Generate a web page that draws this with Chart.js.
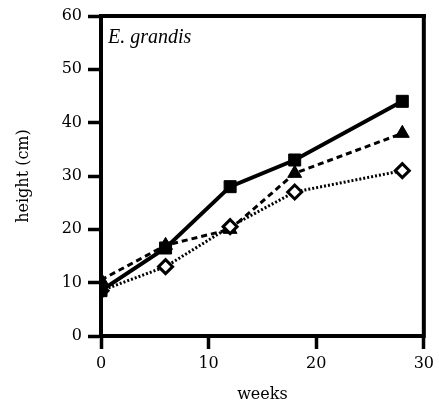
<!DOCTYPE html>
<html>
<head>
<meta charset="utf-8">
<script src="https://cdn.jsdelivr.net/npm/chart.js@4/dist/chart.umd.min.js"></script>
<style>
  body { margin: 0; background: #fff; }
  #growth { display: block; }
</style>
</head>
<body>
<canvas id="growth" width="439" height="405"></canvas>
<script>
// Height of E. grandis seedlings over time, three treatments
const weeks = [0, 6, 12, 18, 28];
const squareHeights = [8.5, 16.5, 28, 33, 44];
const triangleHeights = [10.5, 17, 20, 30.5, 38];
const diamondHeights = [8.5, 13, 20.5, 27, 31];

const speciesLabel = 'E. grandis';
const xTitle = 'weeks';
const yTitle = 'height (cm)';

const TICK_LEN = 13;

const toPoints = (ys) => weeks.map((w, i) => ({ x: w, y: ys[i] }));

// closes the box (top and right edges) and names the species
const framePlugin = {
    id: 'frame',
    afterDraw(chart) {
        const { ctx, chartArea: a } = chart;
        ctx.save();
        ctx.fillStyle = '#000';
        ctx.fillRect(a.left - 2, a.top - 2, a.right - a.left + 4, 4);
        ctx.fillRect(a.right - 2, a.top - 2, 4, a.bottom - a.top + 4);
        ctx.font = 'italic 20px "Liberation Serif"';
        ctx.textBaseline = 'alphabetic';
        ctx.fillText(speciesLabel, a.left + 7, a.top + 27);
        ctx.restore();
    }
};

const axisFont = { family: 'DejaVu Serif', size: 16 };
// outward tick marks only, no grid lines inside the plot
const tickGrid = { drawOnChartArea: false, tickLength: TICK_LEN, tickColor: '#000', tickWidth: 3.5 };

new Chart(document.getElementById('growth'), {
    type: 'line',
    data: {
        datasets: [
            {
                label: 'square',
                data: toPoints(squareHeights),
                borderColor: '#000',
                borderWidth: 4,
                pointStyle: 'rect',
                pointRadius: 8.5,
                pointBorderWidth: 1,
                pointBackgroundColor: '#000',
                pointBorderColor: '#000',
                tension: 0
            },
            {
                label: 'diamond',
                data: toPoints(diamondHeights),
                borderColor: '#000',
                borderWidth: 3,
                borderDash: [2, 2],
                pointStyle: 'rectRot',
                pointRadius: 7,
                pointBorderWidth: 3,
                pointBackgroundColor: '#fff',
                pointBorderColor: '#000',
                tension: 0
            },
            {
                label: 'triangle',
                data: toPoints(triangleHeights),
                borderColor: '#000',
                borderWidth: 3,
                borderDash: [6, 4],
                pointStyle: 'triangle',
                pointRadius: 8,
                pointBorderWidth: 1,
                pointBackgroundColor: '#000',
                pointBorderColor: '#000',
                tension: 0
            }
        ]
    },
    options: {
        responsive: false,
        animation: false,
        layout: { padding: { top: 16, right: 13 } },
        plugins: { legend: { display: false }, tooltip: { enabled: false } },
        scales: {
            x: {
                type: 'linear',
                min: 0,
                max: 30,
                afterFit: (s) => { s.height = 69; },
                border: { color: '#000', width: 4 },
                grid: tickGrid,
                ticks: { color: '#000', font: axisFont, padding: 5, maxRotation: 0, stepSize: 10 },
                title: { display: true, text: xTitle, color: '#000',
                         font: { family: 'DejaVu Serif', size: 16 }, padding: { top: 0, bottom: 1 } }
            },
            y: {
                min: 0,
                max: 60,
                afterFit: (s) => { s.width = 101; },
                border: { color: '#000', width: 4 },
                grid: tickGrid,
                ticks: { color: '#000', font: axisFont, padding: 6, stepSize: 10 },
                title: { display: true, text: yTitle, color: '#000',
                         font: { family: 'DejaVu Serif', size: 16 }, padding: { top: 14, bottom: 0 } }
            }
        }
    },
    plugins: [framePlugin]
});
</script>
</body>
</html>
